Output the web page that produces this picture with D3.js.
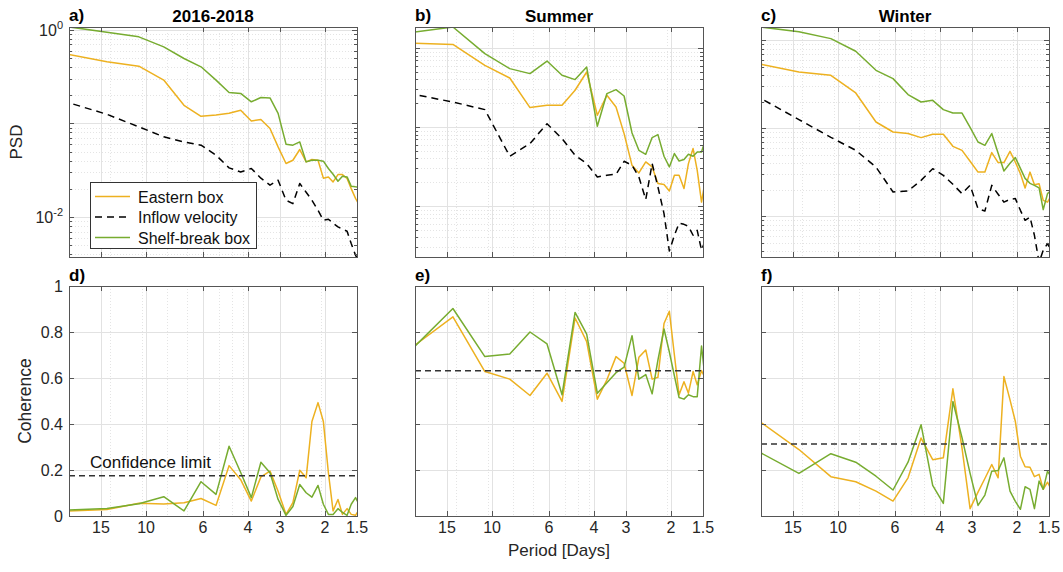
<!DOCTYPE html>
<html>
<head>
<meta charset="utf-8">
<script src="https://cdnjs.cloudflare.com/ajax/libs/d3/7.8.5/d3.min.js"></script>
<style>
body { margin: 0; background: #fff; }
svg { font-family: "Liberation Sans", Arial, sans-serif; }
.gridMajor { stroke: #e2e2e2; stroke-width: 1; fill: none; }
.gridMinor { stroke: #e4e4e4; stroke-width: 1; stroke-dasharray: 1,2; fill: none; }
.frame { fill: none; stroke: #555; stroke-width: 1; }
.tick { stroke: #555; stroke-width: 1; }
.tickLabel { font-size: 16px; fill: #262626; }
.series { fill: none; stroke-width: 1.5; stroke-linejoin: round; }
</style>
</head>
<body>
<div id="chart"></div>
<script>
var w = 1063;
var h = 572;
var panelW = 288;
var panelH = 230;
var colLeft = [69, 415, 761];
var rowTop = [27, 286];

// frequency bins (k * 3/128 cpd) written as periods in days
var periods = [21.33, 14.22, 10.67, 8.53, 7.11, 6.10, 5.33, 4.74, 4.27, 3.88, 3.56, 3.28, 3.05, 2.84,
	2.67, 2.51, 2.37, 2.25, 2.13, 2.03, 1.94, 1.86, 1.78, 1.71, 1.64, 1.58, 1.52, 1.47];
var periodTicks = [15, 10, 6, 4, 3, 2, 1.5];
var minorGridPeriods = [13.8, 10.4, 8.3, 6.9, 5.2, 4.6, 4.17, 2.08];
var panelTitles = ["2016-2018", "Summer", "Winter"];
var topLetters = ["a)", "b)", "c)"];
var bottomLetters = ["d)", "e)", "f)"];
var seriesNames = ["Eastern box", "Inflow velocity", "Shelf-break box"];
var seriesColors = ["#EDB120", "#000000", "#77AC30"];
var cohTicks = [0, 0.2, 0.4, 0.6, 0.8, 1];

// PSD, 2016-2018
var psdEasternAll = [0.564, 0.454, 0.408, 0.290, 0.156, 0.119, 0.123, 0.128, 0.138, 0.106, 0.110, 0.0882, 0.0561, 0.0373,
	0.0404, 0.0526, 0.0388, 0.0411, 0.0404, 0.026, 0.0268, 0.0237, 0.0284, 0.0284, 0.0258, 0.0201, 0.0158, 0.0134];
var psdInflowAll = [0.175, 0.125, 0.0918, 0.0718, 0.0634, 0.0585, 0.0457, 0.0335, 0.0303, 0.033, 0.026, 0.0219, 0.0247, 0.0151,
	0.0139, 0.0228, 0.0184, 0.0151, 0.0118, 0.00925, 0.00947, 0.00859, 0.00784, 0.00741, 0.00705, 0.00521, 0.00391, 0.00329];
var psdShelfAll = [1.10, 0.943, 0.840, 0.657, 0.493, 0.402, 0.290, 0.214, 0.209, 0.170, 0.189, 0.187, 0.128, 0.060,
	0.0585, 0.0634, 0.0388, 0.0404, 0.0404, 0.0395, 0.033, 0.0286, 0.0241, 0.0273, 0.0268, 0.0213, 0.0210, 0.0209];

// PSD, summer
var psdEasternSummer = [1.16, 1.11, 0.604, 0.417, 0.176, 0.188, 0.188, 0.292, 0.497, 0.141, 0.252, 0.179, 0.0825, 0.0327,
	0.0262, 0.0361, 0.0312, 0.0192, 0.0187, 0.0155, 0.0245, 0.0245, 0.0166, 0.0344, 0.0533, 0.0283, 0.0112, 0.0211];
var psdInflowSummer = [0.268, 0.207, 0.166, 0.0426, 0.0617, 0.110, 0.0713, 0.0439, 0.0344, 0.0233, 0.0245, 0.0252, 0.0368, 0.0327,
	0.0233, 0.0121, 0.0344, 0.0174, 0.00802, 0.00269, 0.00426, 0.00604, 0.00586, 0.00553, 0.00426, 0.00492, 0.00275, 0.00368];
var psdShelfSummer = [1.55, 1.845, 0.849, 0.548, 0.474, 0.684, 0.451, 0.398, 0.574, 0.102, 0.265, 0.297, 0.247, 0.0839,
	0.0507, 0.0451, 0.0734, 0.0801, 0.0426, 0.0312, 0.0461, 0.0371, 0.0387, 0.0451, 0.0426, 0.0483, 0.0483, 0.0679];

// PSD, winter
var psdEasternWinter = [0.555, 0.436, 0.400, 0.252, 0.118, 0.0908, 0.0871, 0.0784, 0.0855, 0.0855, 0.0624, 0.0562, 0.0422, 0.0318,
	0.0318, 0.053, 0.0408, 0.0408, 0.0548, 0.0411, 0.0306, 0.021, 0.0318, 0.0229, 0.0235, 0.0152, 0.0145, 0.0173];
var psdInflowWinter = [0.242, 0.1256, 0.079, 0.0562, 0.0363, 0.0189, 0.0194, 0.0256, 0.0348, 0.0292, 0.0231, 0.0181, 0.0225, 0.0122,
	0.0115, 0.0225, 0.0178, 0.0145, 0.0156, 0.0159, 0.0117, 0.00901, 0.00982, 0.00608, 0.003, 0.00411, 0.0049, 0.00411];
var psdShelfWinter = [1.45, 1.25, 1.045, 0.750, 0.456, 0.367, 0.242, 0.199, 0.208, 0.163, 0.149, 0.149, 0.1026, 0.0699,
	0.0641, 0.0871, 0.052, 0.0327, 0.040, 0.0465, 0.0351, 0.027, 0.0237, 0.0225, 0.021, 0.0119, 0.0181, 0.0197];

// coherence with inflow velocity
var cohEasternAll = [0.021, 0.028, 0.055, 0.052, 0.058, 0.076, 0.046, 0.219, 0.158, 0.065, 0.170, 0.195, 0.108, 0.007,
	0.058, 0.199, 0.166, 0.411, 0.493, 0.411, 0.188, 0.022, 0.072, 0.007, 0.032, 0.007, 0.003, 0.03];
var cohShelfAll = [0.025, 0.033, 0.053, 0.084, 0.022, 0.149, 0.094, 0.303, 0.189, 0.080, 0.234, 0.188, 0.072, 0.003,
	0.041, 0.137, 0.101, 0.082, 0.133, 0.051, 0.007, 0.007, 0.032, 0.016, 0.003, 0.051, 0.080, 0.05];
var cohEasternSummer = [0.720, 0.866, 0.628, 0.595, 0.524, 0.621, 0.498, 0.861, 0.758, 0.508, 0.592, 0.693, 0.664, 0.524,
	0.690, 0.722, 0.595, 0.603, 0.837, 0.890, 0.700, 0.527, 0.584, 0.534, 0.628, 0.570, 0.632, 0.60];
var cohShelfSummer = [0.708, 0.902, 0.693, 0.704, 0.800, 0.748, 0.527, 0.885, 0.791, 0.534, 0.579, 0.623, 0.647, 0.784,
	0.595, 0.615, 0.531, 0.678, 0.813, 0.713, 0.609, 0.515, 0.508, 0.527, 0.519, 0.519, 0.739, 0.592];
var cohEasternWinter = [0.429, 0.289, 0.171, 0.149, 0.108, 0.065, 0.166, 0.339, 0.245, 0.253, 0.553, 0.295, 0.032, 0.104,
	0.163, 0.224, 0.166, 0.606, 0.505, 0.411, 0.260, 0.214, 0.212, 0.171, 0.181, 0.116, 0.147, 0.116];
var cohShelfWinter = [0.291, 0.185, 0.271, 0.234, 0.173, 0.113, 0.234, 0.397, 0.133, 0.055, 0.498, 0.341, 0.185, 0.046,
	0.091, 0.195, 0.198, 0.253, 0.108, 0.064, 0.029, 0.127, 0.116, 0.032, 0.152, 0.116, 0.195, 0.168];
var confidenceLimits = [0.175, 0.632, 0.313];

// y limits of each psd panel (axis tight in the original)
var psdLimits = [[0.00374, 1.07], [0.00226, 1.845], [0.00345, 1.416]];

var psdSets = [
	[psdEasternAll, psdInflowAll, psdShelfAll],
	[psdEasternSummer, psdInflowSummer, psdShelfSummer],
	[psdEasternWinter, psdInflowWinter, psdShelfWinter]
];
var cohSets = [
	[cohEasternAll, cohShelfAll],
	[cohEasternSummer, cohShelfSummer],
	[cohEasternWinter, cohShelfWinter]
];

var svg = d3.select("#chart").append("svg")
	.attr("width", w)
	.attr("height", h);

var x = d3.scaleLog().domain([20, 1.5]).range([0, panelW]);

function pairs(vals) {
	return periods.map(function(p, i) { return [p, vals[i]]; });
}

function addClip(g, id) {
	g.append("clipPath").attr("id", id)
		.append("rect")
		.attr("width", panelW)
		.attr("height", panelH);
}

function drawXGrid(g) {
	g.selectAll("line.xminor")
		.data(minorGridPeriods)
		.enter().append("line")
		.attr("class", "gridMinor")
		.attr("x1", function(d) { return Math.round(x(d)) + 0.5; })
		.attr("x2", function(d) { return Math.round(x(d)) + 0.5; })
		.attr("y1", 0).attr("y2", panelH);

	g.selectAll("line.xmajor")
		.data(periodTicks.slice(0, -1))
		.enter().append("line")
		.attr("class", "gridMajor")
		.attr("x1", function(d) { return Math.round(x(d)) + 0.5; })
		.attr("x2", function(d) { return Math.round(x(d)) + 0.5; })
		.attr("y1", 0).attr("y2", panelH);
}

function drawFrame(g) {
	g.append("rect")
		.attr("class", "frame")
		.attr("x", 0.5).attr("y", 0.5)
		.attr("width", panelW).attr("height", panelH);

	//x ticks, inward on top and bottom
	periodTicks.slice(0, -1).forEach(function(d) {
		var px = Math.round(x(d)) + 0.5;
		g.append("line").attr("class", "tick")
			.attr("x1", px).attr("x2", px).attr("y1", panelH).attr("y2", panelH - 5);
		g.append("line").attr("class", "tick")
			.attr("x1", px).attr("x2", px).attr("y1", 0).attr("y2", 5);
	});
}

function drawXLabels(g) {
	g.selectAll("text.xlab")
		.data(periodTicks)
		.enter().append("text")
		.attr("class", "tickLabel")
		.attr("x", function(d) { return x(d); })
		.attr("y", panelH + 17)
		.attr("text-anchor", "middle")
		.text(function(d) { return d; });
}

function psdPanel(col) {
	var g = svg.append("g").attr("transform", "translate(" + colLeft[col] + "," + rowTop[0] + ")");
	var lim = psdLimits[col];
	var y = d3.scaleLog().domain(lim).range([panelH, 0]);
	var clipId = "clipPsd" + col;
	addClip(g, clipId);

	//horizontal grid, minor then major
	var lo = Math.floor(Math.log10(lim[0]));
	var hi = Math.ceil(Math.log10(lim[1]));
	var minorVals = [], majorVals = [];
	for (var e = lo; e <= hi; e++) {
		var dec = Math.pow(10, e);
		if (dec >= lim[0] && dec <= lim[1]) majorVals.push(dec);
		for (var m = 2; m <= 9; m++) {
			if (m * dec >= lim[0] && m * dec <= lim[1]) minorVals.push(m * dec);
		}
	}

	g.selectAll("line.yminor")
		.data(minorVals)
		.enter().append("line")
		.attr("class", "gridMinor")
		.attr("x1", 0).attr("x2", panelW)
		.attr("y1", function(d) { return Math.round(y(d)) + 0.5; })
		.attr("y2", function(d) { return Math.round(y(d)) + 0.5; });

	drawXGrid(g);

	g.selectAll("line.ymajor")
		.data(majorVals)
		.enter().append("line")
		.attr("class", "gridMajor")
		.attr("x1", 0).attr("x2", panelW)
		.attr("y1", function(d) { return Math.round(y(d)) + 0.5; })
		.attr("y2", function(d) { return Math.round(y(d)) + 0.5; });

	var line = d3.line()
		.x(function(d) { return x(d[0]); })
		.y(function(d) { return y(d[1]); });

	var lines = g.append("g").attr("clip-path", "url(#" + clipId + ")");
	psdSets[col].forEach(function(vals, i) {
		lines.append("path")
			.datum(pairs(vals))
			.attr("class", "series")
			.attr("stroke", seriesColors[i])
			.attr("stroke-dasharray", i == 1 ? "7,5" : null)
			.attr("d", line);
	});

	drawFrame(g);

	//y ticks on both sides
	majorVals.forEach(function(d) {
		var py = Math.round(y(d)) + 0.5;
		g.append("line").attr("class", "tick").attr("x1", 0).attr("x2", 5).attr("y1", py).attr("y2", py);
		g.append("line").attr("class", "tick").attr("x1", panelW).attr("x2", panelW - 5).attr("y1", py).attr("y2", py);
	});
	minorVals.forEach(function(d) {
		var py = Math.round(y(d)) + 0.5;
		g.append("line").attr("class", "tick").attr("x1", 0).attr("x2", 3).attr("y1", py).attr("y2", py);
		g.append("line").attr("class", "tick").attr("x1", panelW).attr("x2", panelW - 3).attr("y1", py).attr("y2", py);
	});

	if (col == 0) {
		[1, 0.01].forEach(function(d) {
			var t = g.append("text")
				.attr("class", "tickLabel")
				.attr("x", -6)
				.attr("y", y(d) + 6)
				.attr("text-anchor", "end");
			t.append("tspan").text("10");
			t.append("tspan").attr("dy", -7).style("font-size", "11px").text(Math.round(Math.log10(d)));
		});

		svg.append("text")
			.attr("transform", "translate(22," + (rowTop[0] + panelH / 2) + ") rotate(-90)")
			.attr("text-anchor", "middle")
			.style("font-size", "17px")
			.attr("fill", "#262626")
			.text("PSD");

		drawLegend(g);
	}

	g.append("text")
		.attr("x", panelW / 2)
		.attr("y", -5)
		.attr("text-anchor", "middle")
		.style("font-size", "17px")
		.style("font-weight", "bold")
		.text(panelTitles[col]);

	g.append("text")
		.attr("x", 0)
		.attr("y", -6)
		.style("font-size", "17px")
		.style("font-weight", "bold")
		.text(topLetters[col]);
}

function drawLegend(g) {
	var lg = g.append("g").attr("transform", "translate(21,155)");
	lg.append("rect")
		.attr("x", 0.5).attr("y", 0.5)
		.attr("width", 166).attr("height", 66)
		.attr("fill", "#fff")
		.attr("stroke", "#333")
		.attr("stroke-width", 1);

	var rows = lg.selectAll("g.row")
		.data(seriesNames)
		.enter().append("g")
		.attr("transform", function(d, i) { return "translate(0," + (14.5 + i * 20.5) + ")"; });

	rows.append("line")
		.attr("x1", 5).attr("x2", 40)
		.attr("y1", 0).attr("y2", 0)
		.attr("stroke", function(d, i) { return seriesColors[i]; })
		.attr("stroke-width", 1.5)
		.attr("stroke-dasharray", function(d, i) { return i == 1 ? "7,5" : null; });

	rows.append("text")
		.attr("x", 48)
		.attr("y", 6)
		.style("font-size", "16px")
		.attr("fill", "#111")
		.text(function(d) { return d; });
}

function cohPanel(col) {
	var g = svg.append("g").attr("transform", "translate(" + colLeft[col] + "," + rowTop[1] + ")");
	var y = d3.scaleLinear().domain([0, 1]).range([panelH, 0]);
	var clipId = "clipCoh" + col;
	addClip(g, clipId);

	drawXGrid(g);

	g.selectAll("line.ygrid")
		.data(cohTicks.slice(1, -1))
		.enter().append("line")
		.attr("class", "gridMajor")
		.attr("x1", 0).attr("x2", panelW)
		.attr("y1", function(d) { return Math.round(y(d)) + 0.5; })
		.attr("y2", function(d) { return Math.round(y(d)) + 0.5; });

	var line = d3.line()
		.x(function(d) { return x(d[0]); })
		.y(function(d) { return y(d[1]); });

	var lines = g.append("g").attr("clip-path", "url(#" + clipId + ")");
	cohSets[col].forEach(function(vals, i) {
		lines.append("path")
			.datum(pairs(vals))
			.attr("class", "series")
			.attr("stroke", i == 0 ? seriesColors[0] : seriesColors[2])
			.attr("d", line);
	});

	//confidence limit
	g.append("line")
		.attr("x1", 0).attr("x2", panelW)
		.attr("y1", y(confidenceLimits[col])).attr("y2", y(confidenceLimits[col]))
		.attr("stroke", "#333")
		.attr("stroke-width", 1.5)
		.attr("stroke-dasharray", "6,4");

	drawFrame(g);

	cohTicks.forEach(function(d) {
		var py = Math.round(y(d)) + 0.5;
		g.append("line").attr("class", "tick").attr("x1", 0).attr("x2", 5).attr("y1", py).attr("y2", py);
		g.append("line").attr("class", "tick").attr("x1", panelW).attr("x2", panelW - 5).attr("y1", py).attr("y2", py);
	});

	drawXLabels(g);

	if (col == 0) {
		g.selectAll("text.ylab")
			.data(cohTicks)
			.enter().append("text")
			.attr("class", "tickLabel")
			.attr("x", -6)
			.attr("y", function(d) { return y(d) + 6; })
			.attr("text-anchor", "end")
			.text(function(d) { return d; });

		svg.append("text")
			.attr("transform", "translate(31," + (rowTop[1] + panelH / 2) + ") rotate(-90)")
			.attr("text-anchor", "middle")
			.style("font-size", "17.5px")
			.attr("fill", "#262626")
			.text("Coherence");

		g.append("text")
			.attr("x", 21)
			.attr("y", y(confidenceLimits[col]) - 8)
			.style("font-size", "17px")
			.attr("fill", "#111")
			.text("Confidence limit");
	}

	if (col == 1) {
		g.append("text")
			.attr("x", panelW / 2)
			.attr("y", panelH + 40)
			.attr("text-anchor", "middle")
			.style("font-size", "17px")
			.attr("fill", "#262626")
			.text("Period [Days]");
	}

	g.append("text")
		.attr("x", 0)
		.attr("y", -5)
		.style("font-size", "17px")
		.style("font-weight", "bold")
		.text(bottomLetters[col]);
}

[0, 1, 2].forEach(function(c) {
	psdPanel(c);
	cohPanel(c);
});
</script>
</body>
</html>
